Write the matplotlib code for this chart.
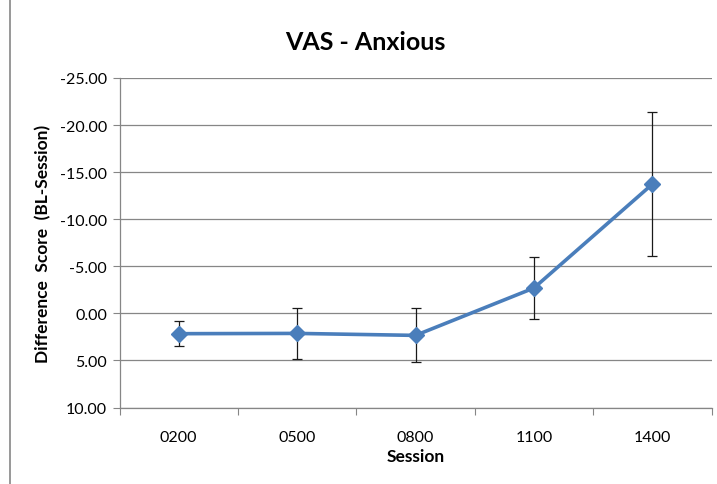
import matplotlib.pyplot as plt
from matplotlib.patches import Rectangle

sessions = ['0200', '0500', '0800', '1100', '1400']
scores = [2.16, 2.13, 2.34, -2.69, -13.72]
errors = [1.35, 2.75, 2.87, 3.26, 7.63]
yticks = [-25, -20, -15, -10, -5, 0, 5, 10]

plt.rcParams['font.family'] = ['Lato', 'DejaVu Sans']

fig = plt.figure(figsize=(7.17, 4.85), dpi=100)
ax = fig.add_axes([119.5 / 717, 1 - 408.5 / 485, (711.5 - 119.5) / 717, (408.5 - 79) / 485])

x = [i + 0.5 for i in range(len(sessions))]
ax.errorbar(x, scores, yerr=errors, fmt='none', ecolor='#1a1a1a', elinewidth=0.9,
            capsize=3.5, capthick=0.9, zorder=2)
ax.plot(x, scores, color='#4a7ebb', lw=2.6, marker='D', markersize=8.5,
        markerfacecolor='#4a7ebb', markeredgecolor='#4a7ebb', zorder=3)

ax.set_xlim(0, len(sessions))
ax.set_ylim(10, -25)
ax.set_yticks(yticks)
ax.set_yticklabels(['%.2f' % v for v in yticks])
ax.set_xticks(range(len(sessions) + 1))
ax.set_xticklabels([])
ax.set_xticks(x, minor=True)
ax.set_xticklabels(sessions, minor=True)
ax.tick_params(axis='x', which='minor', length=0, pad=16, labelsize=11.5)
ax.tick_params(axis='x', which='major', length=5, color='#868686', direction='out')
ax.tick_params(axis='y', length=5, color='#868686', labelsize=11.5, pad=4)

ax.grid(axis='y', color='#868686', lw=0.9)
ax.set_axisbelow(True)
for s in ['top', 'right']:
    ax.spines[s].set_visible(False)
for s in ['left', 'bottom']:
    ax.spines[s].set_color('#868686')
    ax.spines[s].set_linewidth(0.9)

ax.set_ylabel('Difference  Score  (BL-Session)', fontsize=12.5, fontweight='bold', labelpad=6)
ax.set_xlabel('Session', fontsize=12.5, fontweight='bold', labelpad=3)
fig.text(365 / 717, 1 - 43 / 485, 'VAS - Anxious', ha='center', va='center',
         fontsize=18, fontweight='bold')

fig.patches.append(Rectangle((10 / 717, -0.01), 1.1, 1.02, transform=fig.transFigure,
                             fill=False, edgecolor='#868686', lw=1.2))

fig.savefig('out.png', dpi=100)
